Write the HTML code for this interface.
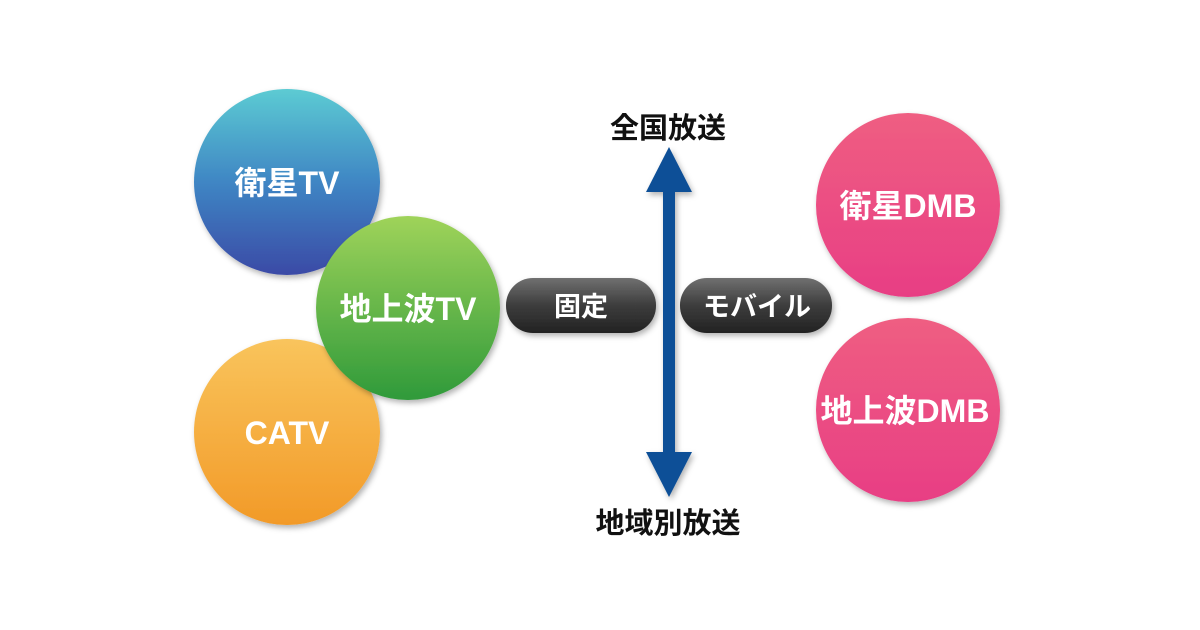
<!DOCTYPE html>
<html><head><meta charset="utf-8"><style>
html,body{margin:0;padding:0;background:#fff;}
svg{display:block;}
text{font-family:"Liberation Sans","Noto Sans CJK JP",sans-serif;font-weight:bold;}
</style></head><body>
<svg width="1200" height="630" viewBox="0 0 1200 630">
<defs>
<linearGradient id="gb" x1="0" y1="0" x2="0" y2="1"><stop offset="0" stop-color="#5ccbd3"/><stop offset="0.5" stop-color="#3f86c4"/><stop offset="1" stop-color="#3a4aa6"/></linearGradient>
<linearGradient id="gg" x1="0" y1="0" x2="0" y2="1"><stop offset="0" stop-color="#9fd35a"/><stop offset="1" stop-color="#2f9a3a"/></linearGradient>
<linearGradient id="go" x1="0" y1="0" x2="0" y2="1"><stop offset="0" stop-color="#f9c45c"/><stop offset="1" stop-color="#f29a28"/></linearGradient>
<linearGradient id="gp" x1="0" y1="0" x2="0" y2="1"><stop offset="0" stop-color="#ef5e82"/><stop offset="1" stop-color="#e83e84"/></linearGradient>
<linearGradient id="gd" x1="0" y1="0" x2="0" y2="1"><stop offset="0" stop-color="#707070"/><stop offset="0.5" stop-color="#3d3d3d"/><stop offset="1" stop-color="#222"/></linearGradient>
<filter id="sh" x="-20%" y="-20%" width="140%" height="140%"><feDropShadow dx="2" dy="3" stdDeviation="3" flood-color="#000" flood-opacity="0.3"/></filter>
</defs>
<circle cx="287" cy="182" r="93" fill="url(#gb)" filter="url(#sh)"/>
<circle cx="287" cy="432" r="93" fill="url(#go)" filter="url(#sh)"/>
<circle cx="408" cy="308" r="92" fill="url(#gg)" filter="url(#sh)"/>
<circle cx="908" cy="205" r="92" fill="url(#gp)" filter="url(#sh)"/>
<circle cx="908" cy="410" r="92" fill="url(#gp)" filter="url(#sh)"/>
<g fill="#fff" font-size="32" text-anchor="middle">
<text x="287" y="194">衛星TV</text>
<text x="287" y="444">CATV</text>
<text x="408" y="320">地上波TV</text>
<text x="908" y="217">衛星DMB</text>
<text x="905" y="422">地上波DMB</text>
</g>
<rect x="506" y="278" width="150" height="55" rx="27" fill="url(#gd)" filter="url(#sh)"/>
<rect x="680" y="278" width="152" height="55" rx="27" fill="url(#gd)" filter="url(#sh)"/>
<g fill="#fff" font-size="27" text-anchor="middle">
<text x="581" y="316">固定</text>
<text x="757" y="316">モバイル</text>
</g>
<g fill="#0d4f97" filter="url(#sh)">
<rect x="663" y="188" width="12" height="268"/>
<polygon points="669,147 692,192 646,192"/>
<polygon points="669,497 692,452 646,452"/>
</g>
<g fill="#111" font-size="29" text-anchor="middle">
<text x="668" y="138">全国放送</text>
<text x="668" y="533">地域別放送</text>
</g>
</svg>
</body></html>
